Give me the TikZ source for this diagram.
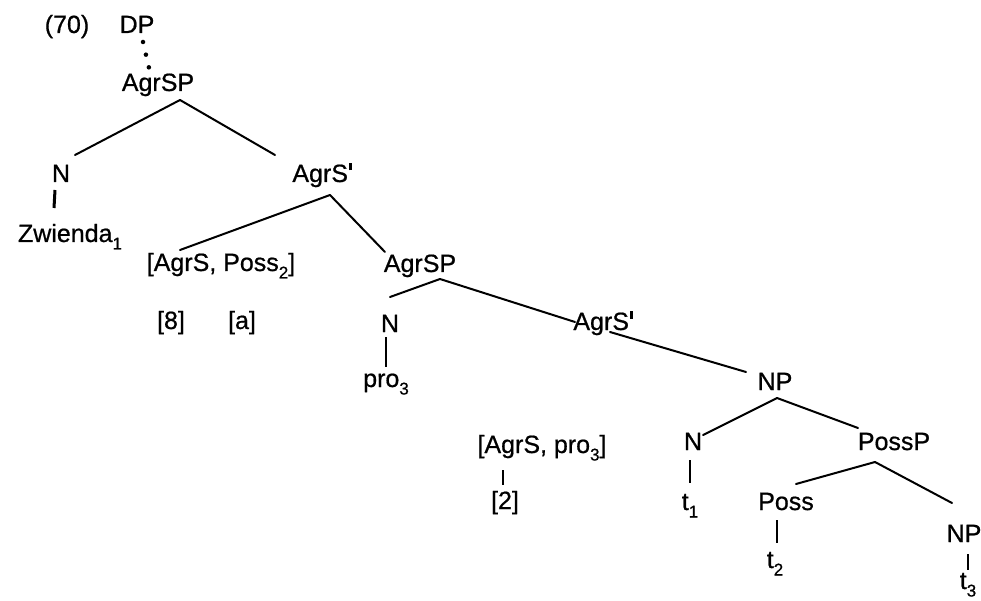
\documentclass[tikz,border=0pt]{standalone}
\usepackage{fontspec}
\setmainfont{Liberation Sans}[FakeBold=0.7]
\newcommand\lsub[1]{\raisebox{-0.3em}{\fontsize{17}{17}\selectfont #1}}
\newcommand\prm{\kern1pt\rule[11.5pt]{2.6pt}{7.5pt}}
\begin{document}
\begin{tikzpicture}[x=1pt,y=-1pt,
  lab/.style={inner sep=0pt, anchor=base, font=\fontsize{25}{30}\selectfont},
  edge/.style={line width=2pt, line cap=round},
  stem/.style={line width=2pt},
  dotline/.style={line width=4.5pt, line cap=round, dash pattern=on 0pt off 13pt}]
\useasboundingbox (0,0) rectangle (981,601);
% labels
\node[lab] (ex) at (67,33) {(70)};
\node[lab] (dp) at (137,33) {DP};
\node[lab] (agrspA) at (158,91) {AgrSP};
\node[lab] (nA) at (61,182) {N};
\node[lab] (zw) at (70,242) {Zwienda\lsub{1}};
\node[lab] (agrsbA) at (322,182) {AgrS\prm};
\node[lab] (feat) at (221,271) {[AgrS, Poss\lsub{2}]};
\node[lab] (agrspB) at (420,272) {AgrSP};
\node[lab] (eight) at (171,329) {[8]};
\node[lab] (a) at (242,329) {[a]};
\node[lab] (nB) at (390,332) {N};
\node[lab] (pro) at (386,387) {pro\lsub{3}};
\node[lab] (agrsbB) at (603,330) {AgrS\prm};
\node[lab] (npA) at (775,390) {NP};
\node[lab] (featB) at (542,453) {[AgrS, pro\lsub{3}]};
\node[lab] (two) at (505,509) {[2]};
\node[lab] (nC) at (693,450) {N};
\node[lab] (tA) at (690,510) {t\lsub{1}};
\node[lab] (possp) at (894,450) {PossP};
\node[lab] (poss) at (786,510) {Poss};
\node[lab] (tB) at (775,568) {t\lsub{2}};
\node[lab] (npB) at (964,542) {NP};
\node[lab] (tC) at (968,589) {t\lsub{3}};
% connectors
\draw[dotline] ([shift={(6,9)}]dp.base) -- ([shift={(-9,-23)}]agrspA.base);
\draw[edge] ([shift={(22,9)}]agrspA.base) -- ([shift={(14,-27)}]nA.base);
\draw[edge] ([shift={(22,9)}]agrspA.base) -- ([shift={(-47,-27)}]agrsbA.base);
\draw[line width=3pt] ([shift={(-6,8)}]nA.base) -- ([shift={(-16,-34)}]zw.base);
\draw[edge] ([shift={(8,13)}]agrsbA.base) -- ([shift={(-41,-21)}]feat.base);
\draw[edge] ([shift={(8,13)}]agrsbA.base) -- ([shift={(-35,-20)}]agrspB.base);
\draw[edge] ([shift={(20,7)}]agrspB.base) -- ([shift={(0,-35)}]nB.base);
\draw[edge] ([shift={(20,7)}]agrspB.base) -- ([shift={(-28,-8)}]agrsbB.base);
\draw[stem] ([shift={(-4,5)}]nB.base) -- ([shift={(0,-20)}]pro.base);
\draw[edge] ([shift={(7,2)}]agrsbB.base) -- ([shift={(-29,-18)}]npA.base);
\draw[edge] ([shift={(2,8)}]npA.base) -- ([shift={(10,-15)}]nC.base);
\draw[edge] ([shift={(2,8)}]npA.base) -- ([shift={(-36,-22)}]possp.base);
\draw[stem] ([shift={(-39,17)}]featB.base) -- ([shift={(-2,-24)}]two.base);
\draw[stem] ([shift={(-3,10)}]nC.base) -- ([shift={(0,-27)}]tA.base);
\draw[edge] ([shift={(-19,12)}]possp.base) -- ([shift={(10,-26)}]poss.base);
\draw[edge] ([shift={(-19,12)}]possp.base) -- ([shift={(-12,-39)}]npB.base);
\draw[stem] ([shift={(-9,10)}]poss.base) -- ([shift={(2,-25)}]tB.base);
\draw[stem] ([shift={(4,12)}]npB.base) -- ([shift={(0,-19)}]tC.base);
\end{tikzpicture}
\end{document}
